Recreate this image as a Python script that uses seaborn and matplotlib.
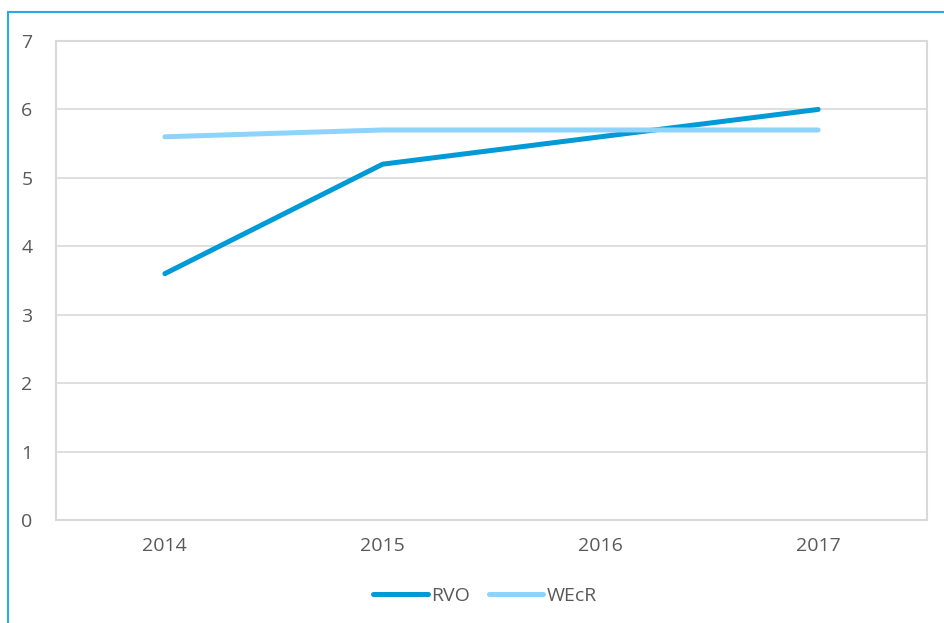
import matplotlib
matplotlib.use('Agg')
import matplotlib.pyplot as plt
import seaborn as sns
import pandas as pd
from matplotlib.patches import Rectangle

years = ['2014', '2015', '2016', '2017']
rvo = [3.6, 5.2, 5.6, 6.0]
wecr = [5.6, 5.7, 5.7, 5.7]

df = pd.DataFrame({'year': years * 2,
                   'value': rvo + wecr,
                   'series': ['RVO'] * 4 + ['WEcR'] * 4})

sns.set_style('white')
plt.rcParams['font.family'] = ['Open Sans', 'DejaVu Sans']

fig = plt.figure(figsize=(9.45, 6.23), dpi=100)
ax = fig.add_axes([56 / 945, 1 - 520 / 623, 871 / 945, 479 / 623])

sns.lineplot(data=df, x='year', y='value', hue='series', ax=ax,
             palette={'RVO': '#009ad6', 'WEcR': '#8dd3fb'},
             linewidth=3.6, sort=False, legend=False,
             solid_capstyle='round', solid_joinstyle='round')

ax.set_xlim(-0.5, 3.5)
ax.set_ylim(0, 7)
ax.set_yticks(range(8))
ax.grid(axis='y', color='#d9d9d9', linewidth=1.2)
ax.set_axisbelow(True)
for s in ax.spines.values():
    s.set_color('#d9d9d9')
    s.set_linewidth(1.5)
ax.set_xlabel('')
ax.set_ylabel('')
ax.tick_params(axis='both', length=0, labelsize=14, colors='#595959')
ax.tick_params(axis='y', pad=17)
ax.tick_params(axis='x', pad=12)

h1, = ax.plot([], [], color='#009ad6', linewidth=3.6, solid_capstyle='round')
h2, = ax.plot([], [], color='#8dd3fb', linewidth=3.6, solid_capstyle='round')
fig.legend([h1, h2], ['RVO', 'WEcR'], loc='center', bbox_to_anchor=(485 / 945, 1 - 596 / 623),
           ncol=2, frameon=False, fontsize=14, handlelength=2.8, handletextpad=0.15,
           columnspacing=1.0, labelcolor='#595959')

# document frame
fig.patches.append(Rectangle((8 / 945, -0.1), 1.2, 1 - 12 / 623 + 0.1, transform=fig.transFigure,
                             fill=False, edgecolor='#29abe2', linewidth=1.5))

plt.savefig('out.png', dpi=100)
plt.close()
